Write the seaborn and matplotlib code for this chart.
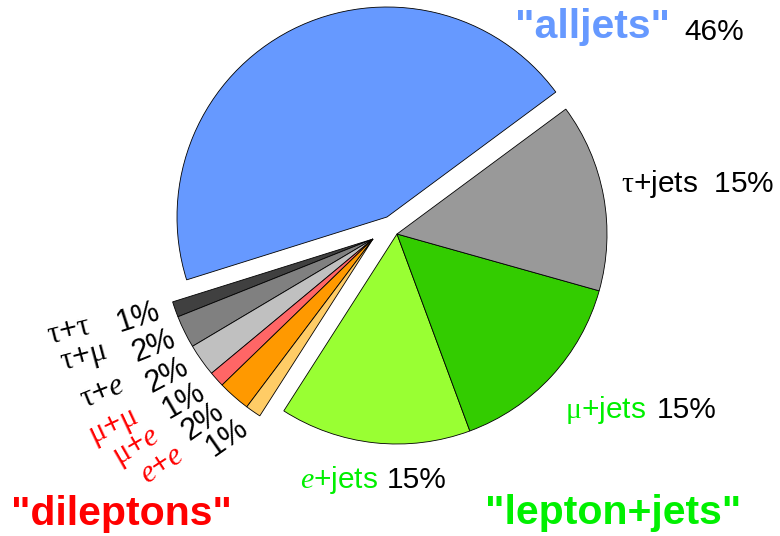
import matplotlib
matplotlib.use("Agg")
import matplotlib.pyplot as plt
import seaborn as sns

sns.set_theme(style="white")
plt.rcParams['font.family'] = ['Liberation Sans', 'DejaVu Sans']
plt.rcParams['mathtext.fontset'] = 'custom'
plt.rcParams['mathtext.rm'] = 'Liberation Serif'
plt.rcParams['mathtext.it'] = 'Liberation Serif:italic'

# top quark pair decay channels, counterclockwise from the alljets slice
channels = ['alljets', 'tau+tau', 'tau+mu', 'tau+e', 'mu+mu', 'mu+e', 'e+e',
            'e+jets', 'mu+jets', 'tau+jets']
# wedge sizes as drawn
shares = [44.7, 1.2, 2.5, 2.5, 1.2, 2.5, 1.2, 14.7, 15.0, 14.5]
groups = ['alljets', 'dileptons', 'dileptons', 'dileptons', 'dileptons',
          'dileptons', 'dileptons', 'ljets', 'ljets', 'ljets']
colors = ['#6699ff', '#404040', '#808080', '#c0c0c0', '#ff6666', '#ff9900',
          '#ffcc66', '#99ff33', '#33cc00', '#999999']

# dilepton labels (text, percent, text colour)
dilep_names = [r'$\mathrm{\tau}$+$\mathrm{\tau}$', r'$\mathrm{\tau}$+$\mathrm{\mu}$',
               r'$\mathrm{\tau}$+$e$', r'$\mathrm{\mu}$+$\mathrm{\mu}$',
               r'$\mathrm{\mu}$+$e$', r'$e$+$e$']
dilep_pct = ['1%', '2%', '2%', '1%', '2%', '1%']
dilep_colors = ['black', 'black', 'black', 'red', 'red', 'red']

W, H = 780, 536
fig = plt.figure(figsize=(W / 100, H / 100), dpi=100)
ax = fig.add_axes([0, 0, 1, 1])


def px(x, y):
    # image pixel coords -> data coords
    return x, H - y


R = 210
centers = {'alljets': px(387, 217), 'dileptons': px(373, 239), 'ljets': px(397, 234)}

for g, c in centers.items():
    wedges, _ = ax.pie(shares, colors=colors, startangle=36.5, counterclock=True,
                       radius=R, center=c,
                       wedgeprops=dict(edgecolor='black', linewidth=0.6))
    for w, grp in zip(wedges, groups):
        w.set_visible(grp == g)

ax.set_xlim(0, W)
ax.set_ylim(0, H)
ax.set_aspect('auto')
ax.axis('off')

big = 29.5
small = 21.5

# big group titles
ax.text(*px(515, 38), '"alljets"', color='#6699ff', fontsize=big, fontweight='bold',
        ha='left', va='baseline')
ax.text(*px(684, 40), '46%', color='black', fontsize=small, ha='left', va='baseline')
ax.text(*px(485, 524), '"lepton+jets"', color='#00f000', fontsize=big, fontweight='bold',
        ha='left', va='baseline')
ax.text(*px(11, 525), '"dileptons"', color='red', fontsize=big, fontweight='bold',
        ha='left', va='baseline')

# lepton+jets labels
ax.text(*px(621, 192), r'$\mathrm{\tau}$+jets  15%', color='black', fontsize=small,
        ha='left', va='baseline')
ax.text(*px(565, 418), r'$\mathrm{\mu}$+jets', color='#00f000', fontsize=small,
        ha='left', va='baseline')
ax.text(*px(657, 418), '15%', color='black', fontsize=small, ha='left', va='baseline')
ax.text(*px(300, 488), r'$e$+jets', color='#00f000', fontsize=small,
        ha='left', va='baseline')
ax.text(*px(387, 488), '15%', color='black', fontsize=small, ha='left', va='baseline')

# rotated dilepton labels
name_pos = [(69, 331), (84, 358), (102, 392), (114, 428), (137, 448), (162, 465)]
name_rot = [14, 15, 22, 25, 30, 33]
pct_pos = [(138, 318), (154, 346), (167, 376), (184, 401), (203, 422), (227, 438)]
pct_rot = [18, 22, 28, 30, 35, 35]
for name, pct, col, p1, r1, p2, r2 in zip(dilep_names, dilep_pct, dilep_colors,
                                          name_pos, name_rot, pct_pos, pct_rot):
    ax.text(*px(*p1), name, color=col, fontsize=22, rotation=r1,
            rotation_mode='anchor', ha='center', va='center')
    ax.text(*px(*p2), pct, color='black', fontsize=22, rotation=r2,
            rotation_mode='anchor', ha='center', va='center')

fig.savefig('out.png', dpi=100, facecolor='white')
